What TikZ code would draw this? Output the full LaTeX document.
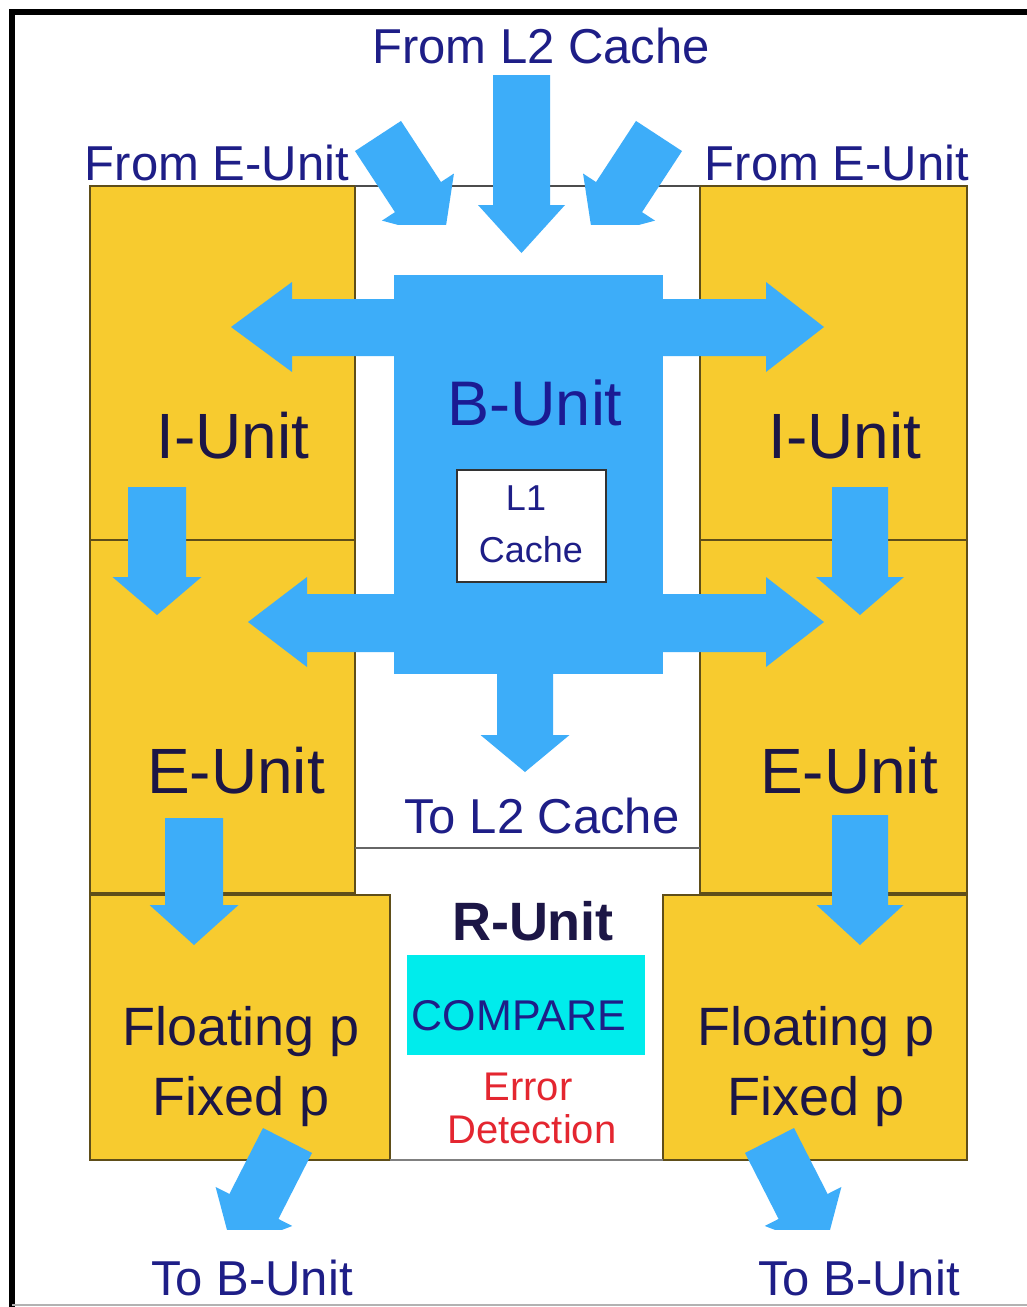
\documentclass[tikz,border=0pt]{standalone}
\usepackage{fontspec}
\setmainfont{Liberation Sans}
\definecolor{ayellow}{RGB}{247,203,47}
\definecolor{ablue}{RGB}{61,173,249}
\definecolor{anavy}{RGB}{30,30,135}
\definecolor{adark}{RGB}{28,22,70}
\definecolor{ared}{RGB}{228,38,48}
\definecolor{acyan}{RGB}{0,236,236}
\definecolor{aedge}{RGB}{95,78,25}
\newcommand{\fatarr}[7]{%
  \fill[ablue, shift={(#1,#2)}, rotate=-#3]
    (0,{-#5/2}) -- ({#4-#7},{-#5/2}) -- ({#4-#7},{-#6/2}) -- (#4,0)
    -- ({#4-#7},{#6/2}) -- ({#4-#7},{#5/2}) -- (0,{#5/2}) -- cycle;}
\tikzset{
  ybox/.style={fill=ayellow, draw=aedge, line width=1.4pt},
  lab/.style={inner sep=0pt, anchor=base, text=anavy, font=\fontsize{49}{55}\selectfont},
  unitlab/.style={inner sep=0pt, anchor=base, text=adark, font=\fontsize{64}{70}\selectfont},
  fplab/.style={inner sep=0pt, anchor=base, text=adark, font=\fontsize{54}{60}\selectfont},
  smalllab/.style={inner sep=0pt, anchor=base, text=anavy, font=\fontsize{36}{40}\selectfont},
  errlab/.style={inner sep=0pt, anchor=base, text=ared, font=\fontsize{40}{44}\selectfont},
}
\begin{document}
\begin{tikzpicture}[x=1pt,y=-1pt]
\useasboundingbox (0,0) rectangle (1027,1307);
\fill[white] (0,0) rectangle (1027,1307);
% frame
\draw[line width=6pt] (12,1310) -- (12,12) -- (1030,12);
\draw[gray!60, line width=1.5pt] (12,1305) -- (1027,1305);

% yellow unit boxes
\draw[ybox] (90,186) rectangle (355,540);
\draw[ybox] (90,540) rectangle (355,893);
\draw[ybox] (90,895) rectangle (390,1160);
\draw[ybox] (700,186) rectangle (967,540);
\draw[ybox] (700,540) rectangle (967,893);
\draw[ybox] (663,895) rectangle (967,1160);
% white middle areas
\draw[black!70, line width=1.2pt] (355,186) -- (700,186);
\draw[black!60, line width=1.2pt] (355,848) -- (700,848);
\draw[gray, line width=2.5pt] (390,1160) -- (663,1160);

% B-Unit block with double arrows
\fill[ablue] (394,275) rectangle (663,674);
\fill[ablue] (231,327) -- (292,282) -- (292,299) -- (766,299) -- (766,282) -- (824,327)
  -- (766,372) -- (766,356) -- (292,356) -- (292,372) -- cycle;
\fill[ablue] (248,622) -- (307,577) -- (307,594) -- (766,594) -- (766,577) -- (824,622)
  -- (766,667) -- (766,652) -- (307,652) -- (307,667) -- cycle;
\fatarr{525}{673}{90}{99}{56}{89}{37}
% L1 cache box
\draw[fill=white, draw=black!80, line width=1.2pt] (457,470) rectangle (606,582);

% arrows from L2 / E-units
\fatarr{521.5}{75}{90}{178}{57}{87}{48}
\begin{scope}
  \clip (0,0) rectangle (1027,224);
  \fatarr{378}{136}{56.8}{121}{55}{86}{48}
  \fatarr{659}{136}{123.2}{121}{55}{86}{48}
\end{scope}
% I -> E, E -> FP
\fatarr{157}{487}{90}{128}{58}{89}{38}
\fatarr{860}{487}{90}{128}{56}{88}{38}
\fatarr{194}{818}{90}{127}{58}{89}{40}
\fatarr{860}{815}{90}{130}{56}{87}{40}
% to B-unit
\begin{scope}
  \clip (0,0) rectangle (1027,1229);
  \fatarr{287.5}{1140.5}{117}{122}{55}{86}{48}
  \fatarr{769.5}{1140.5}{63}{122}{55}{86}{48}
\end{scope}

% compare box
\fill[acyan] (407,955) rectangle (645,1055);

% texts
\node[lab] (froml2) at (541,63) {From L2 Cache};
\node[lab] (frome1) at (217,180) {From E-Unit};
\node[lab] (frome2) at (837,180) {From E-Unit};
\node[inner sep=0pt, anchor=base, text=anavy!90!blue, font=\fontsize{63}{68}\selectfont] (bunit) at (535,425) {B-Unit};
\node[smalllab] (l1) at (526,510) {L1};
\node[smalllab] (cache) at (531,562) {Cache};
\node[unitlab] (iu1) at (233,458) {I-Unit};
\node[unitlab] (iu2) at (845,458) {I-Unit};
\node[unitlab] (eu1) at (236,793) {E-Unit};
\node[unitlab] (eu2) at (849,793) {E-Unit};
\node[lab] (tol2) at (542,833) {To L2 Cache};
\node[inner sep=0pt, anchor=base, text=adark, font=\fontsize{54}{60}\selectfont\bfseries] (runit) at (533,940) {R-Unit};
\node[inner sep=0pt, anchor=base, text=anavy, font=\fontsize{43}{48}\selectfont] (compare) at (519,1030) {COMPARE};
\node[errlab] (err) at (528,1100) {Error};
\node[errlab] (det) at (532,1143) {Detection};
\node[fplab] (fl1) at (241,1045) {Floating p};
\node[fplab] (fx1) at (241,1115) {Fixed p};
\node[fplab] (fl2) at (816,1045) {Floating p};
\node[fplab] (fx2) at (816,1115) {Fixed p};
\node[lab] (tob1) at (252,1295) {To B-Unit};
\node[lab] (tob2) at (859,1295) {To B-Unit};
\end{tikzpicture}
\end{document}
